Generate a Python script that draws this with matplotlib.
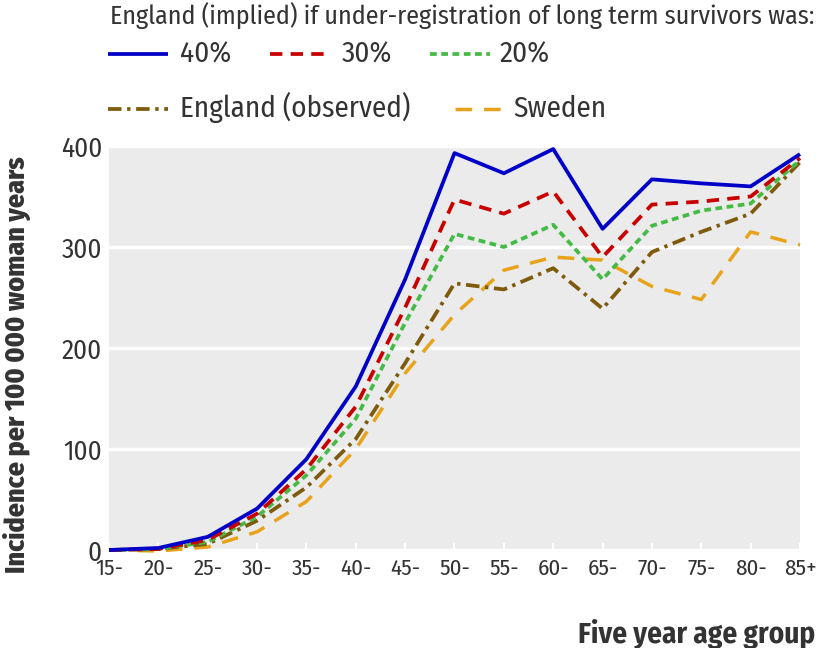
import matplotlib
matplotlib.use("Agg")
import matplotlib.pyplot as plt
from matplotlib.lines import Line2D

# --- data ---
age_groups = ["15-", "20-", "25-", "30-", "35-", "40-", "45-", "50-",
              "55-", "60-", "65-", "70-", "75-", "80-", "85+"]
implied_40 = [0, 2, 13, 41, 90, 162, 268, 393, 373, 397, 318, 367, 363, 360, 392]
implied_30 = [0, 1, 10, 36, 80, 142, 240, 347, 333, 355, 290, 342, 345, 350, 388]
implied_20 = [0, 1, 8, 33, 74, 130, 225, 313, 300, 322, 268, 321, 336, 343, 386]
england_obs = [0, 1, 6, 29, 62, 110, 185, 264, 258, 279, 239, 295, 315, 333, 384]
sweden = [0, -1, 3, 18, 48, 100, 175, 233, 277, 290, 287, 261, 248, 315, 302]
yticks = [0, 100, 200, 300, 400]

FONT = ["Fira Sans Condensed", "Roboto Condensed", "DejaVu Sans"]
plt.rcParams["font.family"] = FONT
TXT = "#333333"

W, H = 820, 648
fig = plt.figure(figsize=(W / 100, H / 100), dpi=100)
# plot area in pixels: x 109..800, y 146..550
ax = fig.add_axes([109 / W, (H - 550) / H, (800 - 109) / W, (550 - 146) / H])
ax.set_facecolor("#ebebeb")
for s in ax.spines.values():
    s.set_visible(False)

styles = [
    (implied_40, "40%", dict(color="#0000c8", lw=2.7, ls="-")),
    (implied_30, "30%", dict(color="#c80000", lw=2.7, ls=(0, (3.3, 2.2)))),
    (implied_20, "20%", dict(color="#44bb44", lw=2.7, ls=(0, (1.8, 1.2)))),
    (england_obs, "England (observed)", dict(color="#7d5a0c", lw=2.7, ls=(0, (3.6, 1.5, 0.9, 1.5)))),
    (sweden, "Sweden", dict(color="#e8a31a", lw=2.5, ls=(0, (4.8, 3.4)))),
]
x = list(range(len(age_groups)))
# draw back-to-front like the reference (Sweden bottom, 40% top)
for vals, lab, st in reversed(styles):
    ax.plot(x, vals, clip_on=False, solid_capstyle="butt", dash_capstyle="butt", **st)

ax.set_xlim(0, len(age_groups) - 1)
ax.set_ylim(0, 400)
ax.set_yticks(yticks)
ax.yaxis.grid(True, color="white", lw=2.5)
ax.set_axisbelow(True)
ax.set_xticks(x)
ax.set_xticklabels(age_groups)
ax.set_yticklabels([str(v) for v in yticks])
ax.tick_params(axis="x", direction="in", length=5, width=1.5, color="white",
               labelsize=16.5, pad=6, labelcolor=TXT)
ax.tick_params(axis="y", length=0, labelsize=19.5, pad=5, labelcolor=TXT)

ax.set_ylabel("Incidence per 100 000 woman years", fontsize=20, fontweight="heavy",
              color=TXT)
# label coords give the right-hand edge of the rotated label
ax.yaxis.set_label_coords(-(109 - 31) / 691, (550 - 365) / 404)
fig.text(815 / W, 1 - 643 / H, "Five year age group", fontsize=21, fontweight="bold",
         color=TXT, ha="right", va="baseline")

# --- legend drawn by hand to match the reference layout ---
def px(xp, yp):
    return xp / W, 1 - yp / H

fig.text(*px(110, 25), "England (implied) if under-registration of long term survivors was:",
         fontsize=18.7, color=TXT, va="baseline")
# (style index, handle x0, handle x1, label x, handle y, label baseline y)
entries = [
    (0, 108, 168, 180, 54, 63),
    (1, 270, 330, 342, 54, 63),
    (2, 430, 490, 500, 54, 63),
    (3, 108, 168, 180, 109, 117),
    (4, 455, 505, 513, 109, 117),
]
for idx, x0, x1, tx, yy, yb in entries:
    vals, lab, st = styles[idx]
    (fx0, fy), (fx1, _) = px(x0, yy), px(x1, yy)
    fig.add_artist(Line2D([fx0, fx1], [fy, fy], transform=fig.transFigure,
                          solid_capstyle="butt", dash_capstyle="butt", **st))
    fig.text(*px(tx, yb), lab, fontsize=21, color=TXT, va="baseline")

fig.savefig("out.png", dpi=100)
